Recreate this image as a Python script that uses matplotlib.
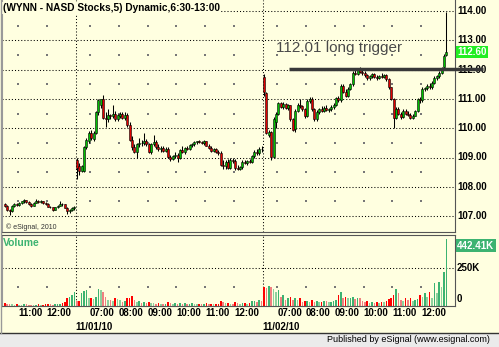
import matplotlib
matplotlib.use("Agg")

import matplotlib.pyplot as plt
import matplotlib.transforms as mtransforms
from matplotlib.patches import Rectangle
from matplotlib.lines import Line2D

plt.rcParams["font.family"] = ["Liberation Sans", "DejaVu Sans"]

# ── Data (5-minute bars, index 0 = 10:30 of the previous session) ──────
TITLE = "(WYNN - NASD Stocks,5) Dynamic,6:30-13:00"
DAY_LABELS = ["11/01/10", "11/02/10"]
DAY_STARTS = [30, 108]
HOUR_TICKS = [6, 18, 36, 48, 60, 72, 84, 96, 114, 126, 138, 150, 162, 174]
HOUR_LABELS = ["11:00", "12:00", "07:00", "08:00", "09:00", "10:00", "11:00",
               "12:00", "07:00", "08:00", "09:00", "10:00", "11:00", "12:00"]
PRICE_TICKS = [107, 108, 109, 110, 111, 112, 113, 114]
VOL_TICKS = [250]
TRIGGER_LEVEL = 112.01
TRIGGER_START = 119
TRIGGER_TEXT = "112.01 long trigger"
LAST_PRICE = 112.60
LAST_VOLUME = 442.41

# (open, high, low, close)
day1_bars = [
    (107.40, 107.45, 107.30, 107.35), (107.35, 107.38, 107.18, 107.22),
    (107.22, 107.25, 107.04, 107.18), (107.18, 107.38, 107.15, 107.36),
    (107.36, 107.44, 107.32, 107.42), (107.42, 107.45, 107.34, 107.38),
    (107.38, 107.48, 107.36, 107.46), (107.46, 107.52, 107.42, 107.50),
    (107.50, 107.58, 107.46, 107.54), (107.54, 107.56, 107.44, 107.48),
    (107.48, 107.50, 107.38, 107.40), (107.40, 107.44, 107.32, 107.36),
    (107.36, 107.48, 107.34, 107.46), (107.46, 107.60, 107.44, 107.52),
    (107.52, 107.55, 107.44, 107.48), (107.48, 107.54, 107.45, 107.50),
    (107.50, 107.52, 107.40, 107.44), (107.44, 107.48, 107.38, 107.42),
    (107.42, 107.44, 107.30, 107.32), (107.32, 107.36, 107.26, 107.30),
    (107.30, 107.32, 107.18, 107.22), (107.22, 107.32, 107.20, 107.30),
    (107.30, 107.38, 107.28, 107.36), (107.36, 107.50, 107.34, 107.42),
    (107.42, 107.45, 107.36, 107.40), (107.40, 107.42, 107.26, 107.28),
    (107.28, 107.30, 107.06, 107.16), (107.16, 107.25, 107.12, 107.22),
    (107.22, 107.30, 107.18, 107.28), (107.28, 107.34, 107.22, 107.30),
]

day2_bars = [
    (108.90, 109.00, 108.25, 108.65), (108.70, 108.80, 108.40, 108.55),
    (108.55, 108.75, 108.50, 108.70), (108.55, 109.40, 108.50, 109.35),
    (109.35, 109.65, 109.30, 109.60), (109.55, 109.90, 109.50, 109.85),
    (109.85, 109.95, 109.60, 109.65), (109.62, 109.90, 109.55, 109.85),
    (109.85, 110.60, 109.80, 110.55), (110.55, 111.00, 110.45, 110.95),
    (110.80, 111.00, 110.70, 110.98), (110.98, 111.14, 110.30, 110.35),
    (110.35, 110.55, 110.05, 110.30), (110.30, 110.65, 110.20, 110.45),
    (110.45, 110.50, 110.30, 110.42), (110.42, 110.80, 110.35, 110.50),
    (110.50, 110.58, 110.25, 110.30), (110.30, 110.50, 110.25, 110.45),
    (110.40, 110.55, 110.35, 110.50), (110.50, 110.55, 110.30, 110.35),
    (110.35, 110.55, 110.28, 110.45), (110.45, 110.52, 110.05, 110.10),
    (110.10, 110.20, 109.55, 109.60), (109.60, 109.75, 109.25, 109.35),
    (109.35, 109.45, 109.15, 109.20), (109.20, 109.50, 109.00, 109.45),
    (109.45, 109.68, 109.35, 109.50), (109.50, 109.60, 109.40, 109.48),
    (109.48, 109.82, 109.42, 109.55), (109.55, 109.62, 109.40, 109.45),
    (109.45, 109.50, 109.15, 109.18), (109.18, 109.50, 109.12, 109.45),
    (109.45, 109.78, 109.38, 109.52), (109.52, 109.60, 109.30, 109.35),
    (109.35, 109.45, 109.22, 109.28), (109.28, 109.40, 109.20, 109.32),
    (109.32, 109.40, 109.18, 109.22), (109.22, 109.35, 109.18, 109.30),
    (109.30, 109.35, 108.98, 109.02), (109.02, 109.10, 108.88, 108.95),
    (108.95, 109.10, 108.90, 109.05), (109.05, 109.20, 108.98, 109.08),
    (109.08, 109.15, 108.85, 109.00), (109.00, 109.30, 108.95, 109.25),
    (109.25, 109.40, 109.15, 109.20), (109.20, 109.35, 109.12, 109.32),
    (109.32, 109.40, 109.25, 109.30), (109.30, 109.45, 109.25, 109.42),
    (109.42, 109.50, 109.35, 109.45), (109.45, 109.55, 109.40, 109.52),
    (109.52, 109.58, 109.45, 109.55), (109.55, 109.60, 109.48, 109.52),
    (109.52, 109.58, 109.45, 109.50), (109.50, 109.60, 109.42, 109.55),
    (109.55, 109.58, 109.38, 109.40), (109.40, 109.45, 109.28, 109.32),
    (109.32, 109.40, 109.20, 109.22), (109.22, 109.32, 109.18, 109.28),
    (109.28, 109.32, 109.15, 109.18), (109.18, 109.25, 109.10, 109.15),
    (109.15, 109.22, 108.72, 108.75), (108.75, 108.90, 108.62, 108.70),
    (108.70, 108.90, 108.62, 108.85), (108.85, 108.95, 108.60, 108.65),
    (108.65, 109.00, 108.60, 108.90), (108.90, 108.98, 108.80, 108.88),
    (108.88, 108.95, 108.57, 108.65), (108.65, 108.75, 108.58, 108.62),
    (108.62, 108.72, 108.58, 108.68), (108.68, 108.90, 108.62, 108.85),
    (108.85, 108.92, 108.78, 108.80), (108.80, 108.90, 108.75, 108.88),
    (108.88, 108.95, 108.80, 108.85), (108.85, 109.08, 108.80, 109.05),
    (109.05, 109.25, 109.00, 109.20), (109.20, 109.28, 109.10, 109.15),
    (109.15, 109.35, 109.10, 109.30), (109.30, 109.40, 109.20, 109.28),
]

day3_bars = [
    (111.75, 111.85, 111.10, 111.22), (111.20, 111.25, 109.80, 109.85),
    (109.78, 109.95, 109.70, 109.88), (109.88, 109.92, 108.90, 109.02),
    (109.02, 110.38, 108.98, 110.30), (110.20, 110.55, 110.00, 110.50),
    (110.50, 110.90, 110.45, 110.85), (110.85, 110.90, 110.68, 110.72),
    (110.72, 110.88, 110.65, 110.82), (110.82, 110.85, 110.65, 110.70),
    (110.70, 110.82, 110.62, 110.78), (110.78, 110.80, 110.25, 110.30),
    (110.30, 110.35, 109.90, 109.95), (109.98, 110.65, 109.88, 110.60),
    (110.60, 110.85, 110.55, 110.80), (110.80, 111.00, 110.70, 110.75),
    (110.75, 110.80, 110.60, 110.65), (110.65, 110.70, 110.35, 110.42),
    (110.42, 110.98, 110.38, 110.92), (110.92, 111.08, 110.85, 111.00),
    (111.00, 111.05, 110.60, 110.65), (110.65, 110.70, 110.25, 110.30),
    (110.30, 110.62, 110.25, 110.55), (110.55, 110.70, 110.50, 110.65),
    (110.65, 110.75, 110.55, 110.60), (110.60, 110.75, 110.55, 110.70),
    (110.70, 110.78, 110.58, 110.62), (110.62, 110.70, 110.55, 110.65),
    (110.65, 110.78, 110.58, 110.72), (110.72, 110.85, 110.65, 110.80),
    (110.80, 111.08, 110.75, 111.02), (111.02, 111.10, 110.88, 110.95),
    (110.95, 111.50, 110.90, 111.45), (111.45, 111.50, 111.20, 111.25),
    (111.25, 111.35, 111.05, 111.10), (111.10, 111.40, 111.05, 111.35),
    (111.35, 111.55, 111.30, 111.50), (111.50, 111.95, 111.45, 111.90),
    (111.90, 112.02, 111.80, 111.85), (111.85, 112.05, 111.80, 112.00),
    (112.00, 112.08, 111.88, 111.92), (111.92, 112.02, 111.82, 111.88),
    (111.88, 111.95, 111.75, 111.80), (111.80, 111.85, 111.65, 111.72),
    (111.72, 111.80, 111.65, 111.78), (111.78, 111.90, 111.72, 111.85),
    (111.85, 111.88, 111.70, 111.75), (111.75, 111.82, 111.65, 111.70),
    (111.70, 111.82, 111.68, 111.78), (111.78, 111.88, 111.70, 111.75),
    (111.75, 111.85, 111.70, 111.82), (111.82, 111.85, 111.62, 111.68),
    (111.68, 111.72, 111.35, 111.40), (111.40, 111.42, 110.95, 111.00),
    (111.00, 111.02, 110.00, 110.35), (110.35, 110.72, 110.30, 110.65),
    (110.65, 110.72, 110.45, 110.50), (110.50, 110.55, 110.30, 110.38),
    (110.38, 110.65, 110.35, 110.60), (110.60, 110.65, 110.45, 110.50),
    (110.50, 110.58, 110.40, 110.45), (110.45, 110.52, 110.30, 110.35),
    (110.35, 110.48, 110.30, 110.42), (110.42, 110.62, 110.40, 110.58),
    (110.58, 111.02, 110.55, 110.98), (110.98, 111.05, 110.85, 110.95),
    (110.95, 111.40, 110.90, 111.35), (111.35, 111.42, 111.28, 111.38),
    (111.38, 111.50, 111.32, 111.45), (111.45, 111.55, 111.35, 111.40),
    (111.40, 111.60, 111.35, 111.55), (111.55, 111.78, 111.50, 111.72),
    (111.72, 111.82, 111.65, 111.78), (111.78, 111.95, 111.72, 111.90),
    (111.90, 112.08, 111.85, 112.02), (112.10, 112.52, 112.05, 112.48),
    (112.50, 113.97, 112.45, 112.60),
]

# volume in thousands of shares
day1_vol = [18, 14, 12, 10, 8, 10, 9, 8, 12, 10, 9, 8, 7, 9, 10, 8, 9, 12, 14,
            10, 9, 12, 13, 15, 20, 28, 50, 62, 72, 95]
day2_vol = [30, 35, 85, 100, 105, 52, 52, 46, 60, 112, 105, 92, 60, 40, 38, 35,
            50, 45, 40, 28, 35, 50, 55, 65, 40, 24, 33, 22, 25, 20, 28, 22, 20,
            15, 18, 15, 12, 14, 25, 20, 15, 18, 14, 20, 16, 18, 12, 15, 18, 14,
            12, 15, 10, 16, 18, 12, 14, 10, 12, 15, 30, 25, 18, 22, 15, 12, 28,
            20, 15, 18, 22, 15, 20, 30, 35, 25, 40, 32]
day3_vol = [127, 120, 132, 127, 115, 95, 105, 60, 72, 40, 50, 60, 40, 50, 40,
            50, 28, 32, 35, 28, 40, 28, 30, 25, 28, 35, 30, 25, 28, 32, 40, 70,
            95, 55, 60, 50, 55, 60, 45, 55, 50, 30, 25, 30, 22, 28, 20, 25, 22,
            28, 24, 30, 45, 50, 72, 115, 88, 40, 35, 50, 40, 50, 35, 40, 45, 72,
            60, 83, 60, 94, 50, 150, 83, 160, 127, 225, 442.41]

# ── Look ────────────────────────────────────────────────────────────
W, H = 499, 347
BG = "#ffffe0"
UP, DOWN = "#00c000", "#e00000"
PX_PER_BAR = 2.4

bars = day1_bars + day2_bars + day3_bars
vols = day1_vol + day2_vol + day3_vol
xs = [i + 0.5 for i in range(len(bars))]
opens = [b[0] for b in bars]
highs = [b[1] for b in bars]
lows = [b[2] for b in bars]
closes = [b[3] for b in bars]

fig = plt.figure(figsize=(W / 100, H / 100), dpi=100)
fig.patch.set_facecolor(BG)

ax = fig.add_axes([2 / W, 1 - 232 / H, 453 / W, 232 / H])
axv = fig.add_axes([2 / W, 1 - 306 / H, 453 / W, 71 / H])

x_left = 6 - 16 / PX_PER_BAR
x_right = 6 + 437 / PX_PER_BAR
for a in (ax, axv):
    a.set_facecolor(BG)
    a.set_xlim(x_left, x_right)
    a.set_xticks([])
    a.set_yticks([])
    for s in a.spines.values():
        s.set_color("#555555")
        s.set_linewidth(0.8)
    a.spines["left"].set_color("#999999")
    for d in DAY_STARTS:
        a.axvline(d, color="black", lw=0.75, ls=(0, (1, 2)), zorder=1)
ax.spines["top"].set_visible(False)

ax.set_ylim(114 - 221 / 29.3, 114 + 11 / 29.3)
axv.set_ylim(0, 71 * 6.58)

# grid
for p in PRICE_TICKS:
    ax.axhline(p, color="black", lw=0.75, ls=(0, (1, 2)), zorder=1)
for v in VOL_TICKS:
    axv.axhline(v, color="black", lw=0.75, ls=(0, (1, 2)), zorder=1)
dot_x = [t for t in HOUR_TICKS for _ in PRICE_TICKS[:-1]]
dot_y = [p + 0.5 for _ in HOUR_TICKS for p in PRICE_TICKS[:-1]]
ax.scatter(dot_x, dot_y, s=0.6, marker="s", color="#777777", lw=0, zorder=1)
axv.scatter(HOUR_TICKS, [125] * len(HOUR_TICKS), s=0.6, marker="s",
            color="#777777", lw=0, zorder=1)

# candles
ax.vlines(xs, lows, highs, color="black", lw=0.75, zorder=2)
body_col = [UP if c >= o else DOWN for o, c in zip(opens, closes)]
body_bot = [min(o, c) for o, c in zip(opens, closes)]
body_h = [max(abs(c - o), 0.02) for o, c in zip(opens, closes)]
ax.bar(xs, body_h, bottom=body_bot, width=0.85, color=body_col,
       edgecolor="black", linewidth=0.4, zorder=3)

# volume
vcol = []
for i, v in enumerate(vols):
    up = closes[i] >= opens[i]
    rising = i == 0 or v >= vols[i - 1]
    if up:
        vcol.append("#3cb371" if rising else "#8fd19e")
    else:
        vcol.append("#ff0000" if rising else "#f08080")
axv.bar(xs, vols, width=0.7, color=vcol, lw=0, zorder=2)

# trigger line and note
trig_end = x_right + 28 / PX_PER_BAR
ax.plot([TRIGGER_START, trig_end], [TRIGGER_LEVEL, TRIGGER_LEVEL],
        color="#383838", lw=2.5, solid_capstyle="butt", clip_on=False, zorder=6)
ax.text(TRIGGER_START - 13 / PX_PER_BAR, TRIGGER_LEVEL + 0.58, TRIGGER_TEXT,
        fontsize=11, color="#4a4a4a", va="baseline", ha="left", zorder=5)

# right-hand scale
rt = mtransforms.offset_copy(ax.get_yaxis_transform(), fig, x=2, y=0, units="dots")
for p in PRICE_TICKS:
    ax.text(1, p, f"{p:.2f}", transform=rt, fontsize=7, fontweight="bold",
            va="center", ha="left", color="black", zorder=4)
ax.text(1, LAST_PRICE, f"{LAST_PRICE:.2f}", transform=rt, fontsize=7,
        fontweight="bold", va="center", ha="left", color="white", clip_on=False,
        bbox=dict(boxstyle="square,pad=0.15", fc="#22ee22", ec="none"), zorder=5)

rv = mtransforms.offset_copy(axv.get_yaxis_transform(), fig, x=2, y=0, units="dots")
for v in VOL_TICKS:
    axv.text(1, v, f"{v}K", transform=rv, fontsize=7, fontweight="bold",
             va="center", ha="left", color="black")
axv.text(1, 0, "0", transform=mtransforms.offset_copy(
    axv.get_yaxis_transform(), fig, x=2, y=2, units="dots"),
    fontsize=7, fontweight="bold", va="bottom", ha="left", color="black")
axv.text(1, LAST_VOLUME, f"{LAST_VOLUME:.2f}K", transform=mtransforms.offset_copy(
    axv.get_yaxis_transform(), fig, x=2, y=-2, units="dots"),
    fontsize=7, fontweight="bold", va="top", ha="left", color="white",
    bbox=dict(boxstyle="square,pad=0.15", fc="#3cb371", ec="none"))

# time axis
tt = mtransforms.offset_copy(axv.get_xaxis_transform(), fig, x=0, y=-7, units="dots")
for t, lab in zip(HOUR_TICKS, HOUR_LABELS):
    axv.text(t, 0, lab, transform=tt, fontsize=7, fontweight="bold",
             va="center", ha="left", clip_on=False)
td = mtransforms.offset_copy(axv.get_xaxis_transform(), fig, x=0, y=-21, units="dots")
for t, lab in zip(DAY_STARTS, DAY_LABELS):
    axv.text(t, 0, lab, transform=td, fontsize=7, fontweight="bold",
             va="center", ha="left", clip_on=False)

# panel captions
ax.text(0, 1, TITLE, transform=mtransforms.offset_copy(
    ax.transAxes, fig, x=1, y=-8, units="dots"), fontsize=7.3, fontweight="bold",
    va="center", ha="left", zorder=5,
    bbox=dict(boxstyle="square,pad=0.1", fc=BG, ec="none"))
ax.text(0, 0, "\u00a9 eSignal, 2010", transform=mtransforms.offset_copy(
    ax.transAxes, fig, x=4, y=5, units="dots"), fontsize=5, color="#333333",
    va="center", ha="left")
axv.text(0, 1, "Volume", transform=mtransforms.offset_copy(
    axv.transAxes, fig, x=1, y=-8, units="dots"), fontsize=7.5,
    fontweight="bold", color="#3cb371", va="center", ha="left")

# frame and status bar
fig.add_artist(Rectangle((0, 0), 1, 14 / H, transform=fig.transFigure,
                         fc="#ebebeb", ec="none"))
fig.add_artist(Line2D([0, 1], [1 - 332.5 / H] * 2, transform=fig.transFigure,
                      color="#333333", lw=1))
fig.add_artist(Line2D([0.5 / W] * 2, [14 / H, 1], transform=fig.transFigure,
                      color="#999999", lw=1))
fig.text(490 / W, 1 - 340 / H, "Published by eSignal (www.esignal.com)",
         fontsize=6.5, va="center", ha="right", color="black")

fig.savefig("out.png", dpi=100, facecolor=BG)
